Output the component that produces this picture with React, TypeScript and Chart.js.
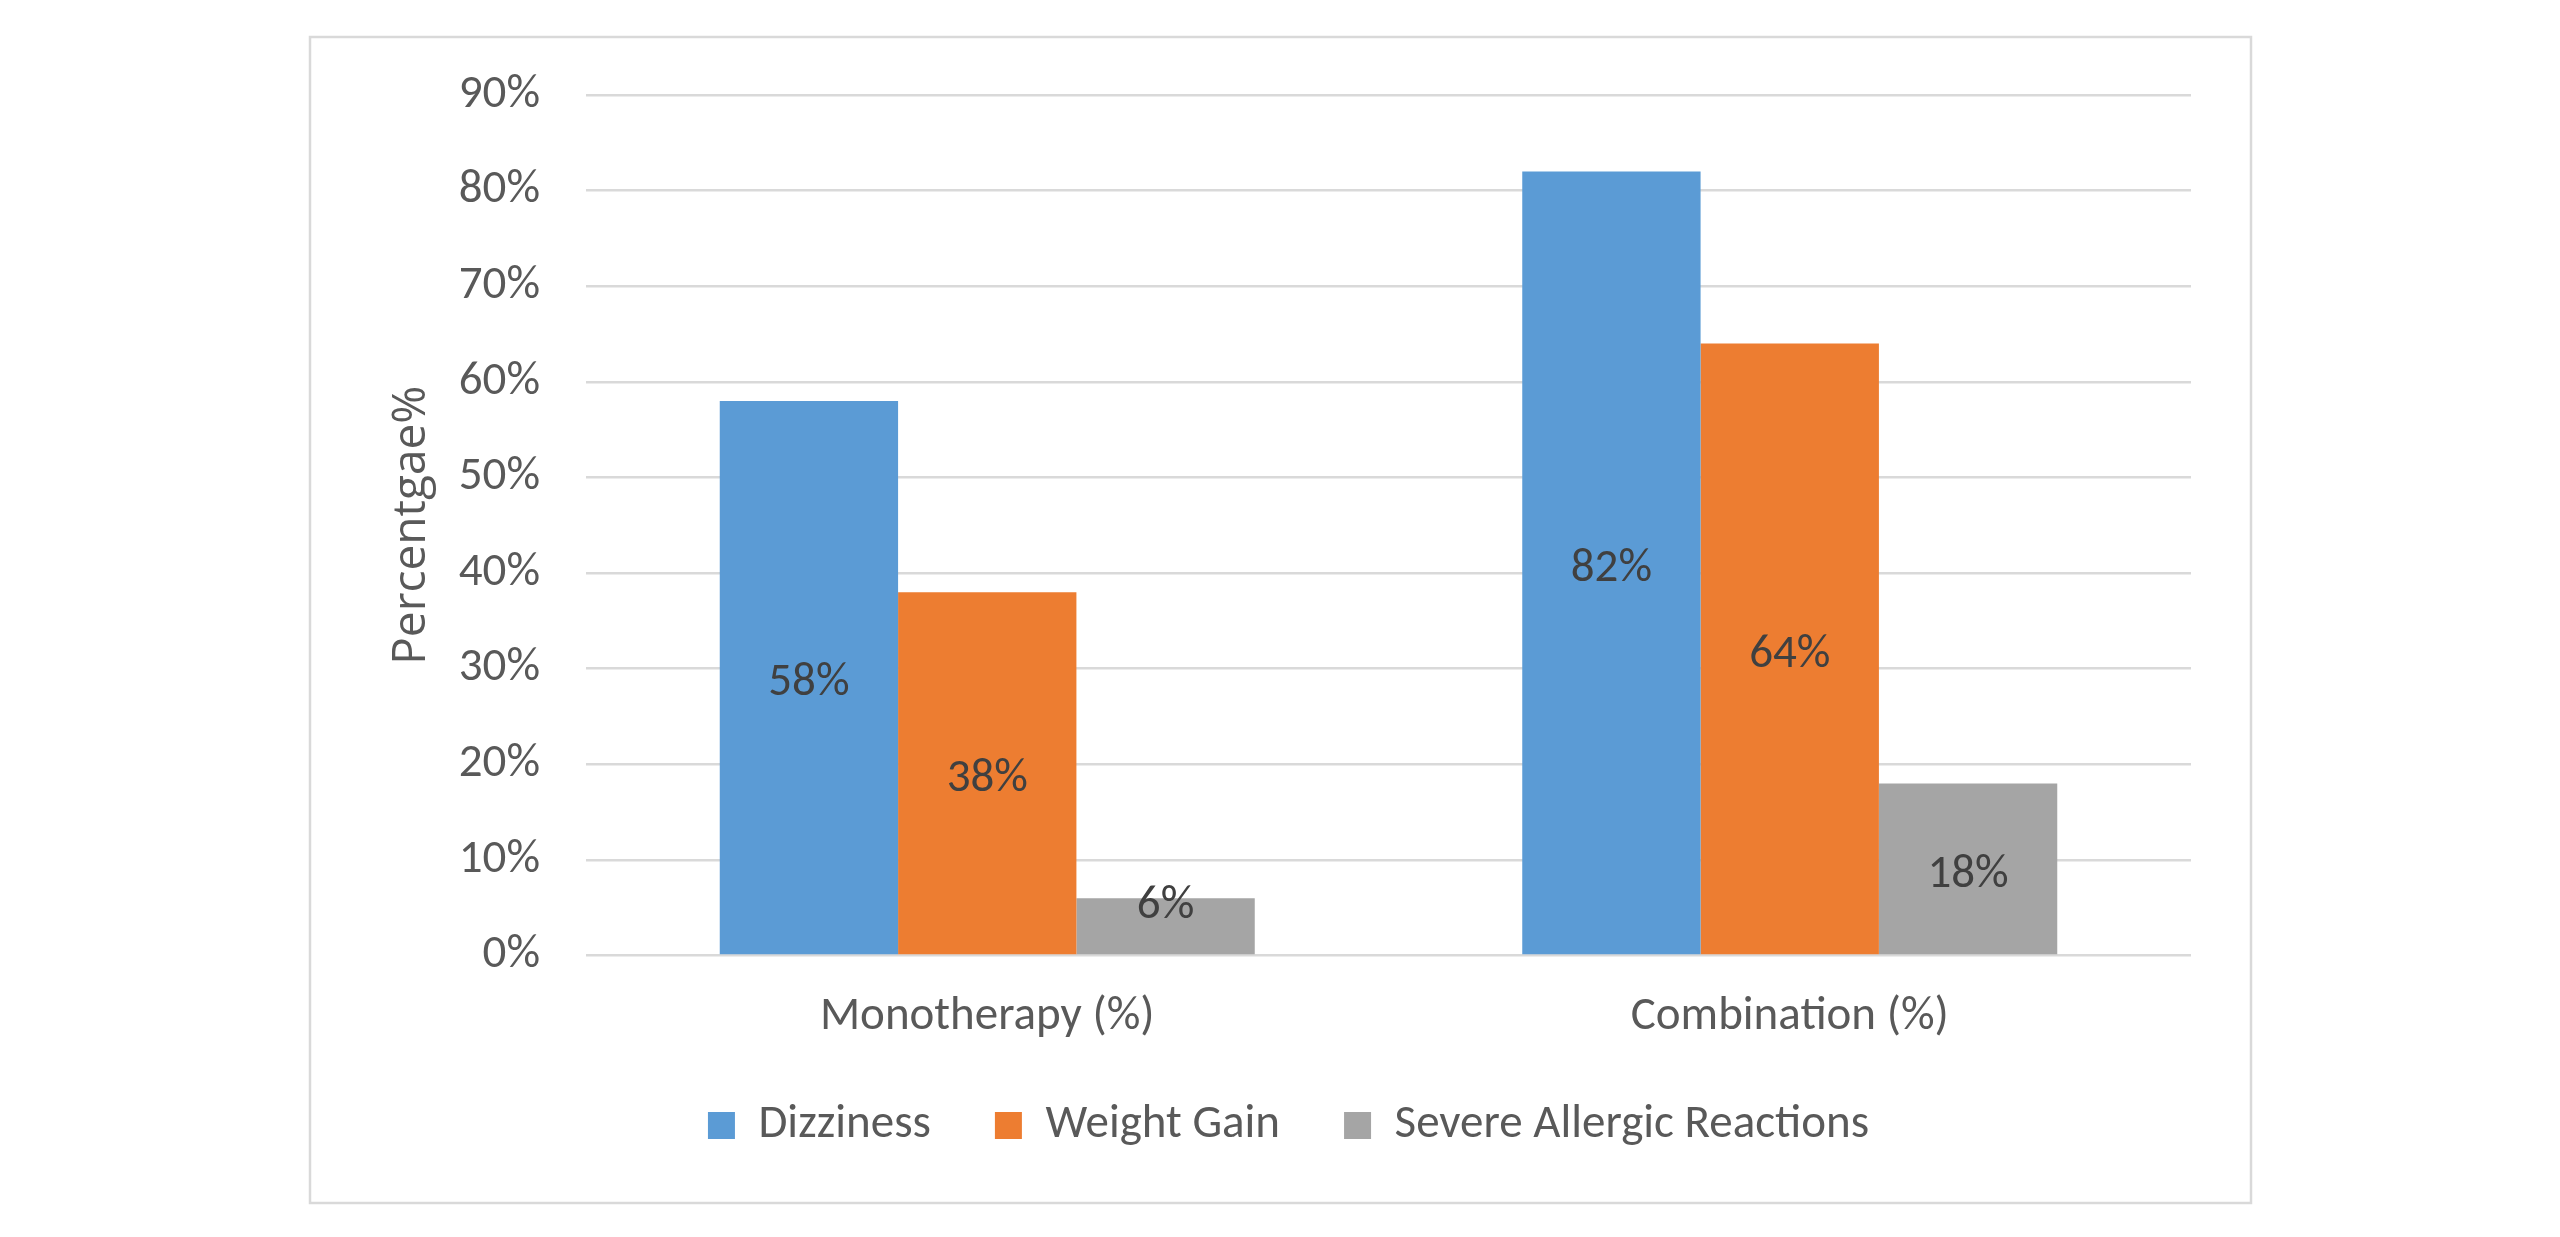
import React, { useEffect, useRef } from "react";
import { Chart, registerables } from "chart.js";

Chart.register(...registerables);

const categories = ["Monotherapy (%)", "Combination (%)"];
const seriesNames = ["Dizziness", "Weight Gain", "Severe Allergic Reactions"];
const dizziness = [58, 82];
const weightGain = [38, 64];
const severeAllergic = [6, 18];
const seriesColors = ["#5B9BD5", "#ED7D31", "#A5A5A5"];
const yTicksMax = 90;
const yStep = 10;
const yTitle = "Percentgae%";

const FONT = 'Carlito, Calibri, "Liberation Sans Narrow", sans-serif';
const TITLE_FONT = '"Open Sans", "DejaVu Sans", sans-serif';

const framePlugin = {
  id: "frame",
  beforeDraw(chart: any) {
    const ctx = chart.ctx;
    ctx.save();
    ctx.fillStyle = "#ffffff";
    ctx.fillRect(0, 0, chart.width, chart.height);
    ctx.strokeStyle = "#D9D9D9";
    ctx.lineWidth = 2.5;
    ctx.strokeRect(310, 37, 1941, 1166);
    ctx.restore();
  },
};

const labelPlugin = {
  id: "barLabels",
  afterDatasetsDraw(chart: any) {
    const ctx = chart.ctx;
    ctx.save();
    ctx.font = `47px ${FONT}`;
    ctx.fillStyle = "#404040";
    ctx.textAlign = "center";
    ctx.textBaseline = "middle";
    chart.data.datasets.forEach((ds: any, i: number) => {
      const meta = chart.getDatasetMeta(i);
      meta.data.forEach((bar: any, j: number) => {
        const h = bar.base - bar.y;
        const y = h < 70 ? bar.y + 8 : (bar.y + bar.base) / 2 + 6;
        ctx.fillText(ds.data[j] + "%", bar.x, y);
      });
    });
    ctx.restore();
  },
};

export default function App() {
  const ref = useRef<HTMLCanvasElement>(null);
  useEffect(() => {
    if (!ref.current) return;
    const chart = new Chart(ref.current, {
      type: "bar",
      data: {
        labels: categories,
        datasets: [dizziness, weightGain, severeAllergic].map((d, i) => ({
          label: seriesNames[i],
          data: d,
          backgroundColor: seriesColors[i],
          borderWidth: 0,
          barPercentage: 1,
          categoryPercentage: 3 / 4.5,
        })),
      },
      options: {
        animation: false,
        responsive: false,
        devicePixelRatio: 1,
        layout: { padding: { left: 309, right: 292, top: 95, bottom: 78 } },
        plugins: {
          tooltip: { enabled: false },
          legend: {
            position: "bottom",
            labels: {
              boxWidth: 27,
              boxHeight: 27,
              padding: 64,
              color: "#595959",
              font: { family: FONT, size: 47 },
            },
          },
        },
        scales: {
          x: {
            grid: { display: false, drawTicks: false },
            border: { display: false },
            ticks: { color: "#595959", padding: 34, font: { family: FONT, size: 47 } },
            afterFit: (s: any) => {
              s.height = 82.5;
            },
          },
          y: {
            min: 0,
            max: yTicksMax,
            grid: { color: "#D9D9D9", lineWidth: 2.5, drawTicks: false },
            border: { display: false },
            ticks: {
              stepSize: yStep,
              color: "#595959",
              padding: 46,
              font: { family: FONT, size: 47 },
              callback: (v: any) => v + "%",
            },
            title: {
              display: true,
              text: yTitle,
              color: "#595959",
              padding: { top: 75, bottom: 0 },
              font: { family: TITLE_FONT, size: 46 },
            },
            afterFit: (s: any) => {
              s.width = 277;
            },
          },
          yR: {
            position: "right",
            display: true,
            grid: { display: false, drawTicks: false },
            border: { display: false },
            ticks: { display: false },
            afterFit: (s: any) => {
              s.width = 77;
            },
          },
        },
      },
      plugins: [framePlugin, labelPlugin],
    });
    return () => chart.destroy();
  }, []);
  return (
    <canvas
      ref={ref}
      width={2560}
      height={1237}
      style={{ position: "fixed", left: 0, top: 0, width: 2560, height: 1237 }}
    />
  );
}
